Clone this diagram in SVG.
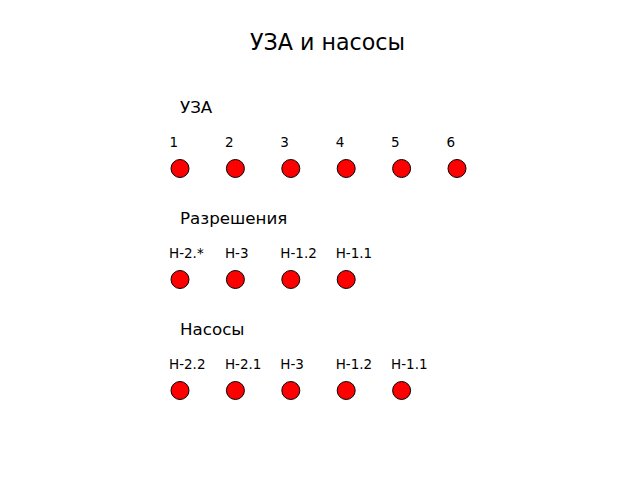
<svg xmlns="http://www.w3.org/2000/svg" width="640" height="480" viewBox="0 0 640 480">
<style>
text{font-family:"DejaVu Sans",sans-serif;fill:#000}
.t{font-size:22.2px}
.h{font-size:16.7px}
.l{font-size:13.5px}
circle{fill:#ff0000;stroke:#000;stroke-width:1}
</style>
<rect width="640" height="480" fill="#fff"/>
<text class="t" x="327.5" y="49.5" text-anchor="middle">УЗА и насосы</text>
<g id="uza">
<text class="h" x="180" y="113">УЗА</text>
<g id="u1"><text class="l" x="169.5" y="147">1</text><circle cx="180" cy="168.5" r="9"/></g>
<g id="u2"><text class="l" x="224.9" y="147">2</text><circle cx="235.4" cy="168.5" r="9"/></g>
<g id="u3"><text class="l" x="280.3" y="147">3</text><circle cx="290.8" cy="168.5" r="9"/></g>
<g id="u4"><text class="l" x="335.7" y="147">4</text><circle cx="346.2" cy="168.5" r="9"/></g>
<g id="u5"><text class="l" x="391.1" y="147">5</text><circle cx="401.6" cy="168.5" r="9"/></g>
<g id="u6"><text class="l" x="446.5" y="147">6</text><circle cx="457" cy="168.5" r="9"/></g>
</g>
<g id="perm">
<text class="h" x="180" y="224">Разрешения</text>
<g id="p1"><text class="l" x="169" y="258">Н-2.*</text><circle cx="180" cy="279.5" r="9"/></g>
<g id="p2"><text class="l" x="224.9" y="258">Н-3</text><circle cx="235.4" cy="279.5" r="9"/></g>
<g id="p3"><text class="l" x="280.3" y="258">Н-1.2</text><circle cx="290.8" cy="279.5" r="9"/></g>
<g id="p4"><text class="l" x="335.7" y="258">Н-1.1</text><circle cx="346.2" cy="279.5" r="9"/></g>
</g>
<g id="pumps">
<text class="h" x="180" y="335">Насосы</text>
<g id="n1"><text class="l" x="169" y="369">Н-2.2</text><circle cx="180" cy="390.5" r="9"/></g>
<g id="n2"><text class="l" x="224.9" y="369">Н-2.1</text><circle cx="235.4" cy="390.5" r="9"/></g>
<g id="n3"><text class="l" x="280.3" y="369">Н-3</text><circle cx="290.8" cy="390.5" r="9"/></g>
<g id="n4"><text class="l" x="335.7" y="369">Н-1.2</text><circle cx="346.2" cy="390.5" r="9"/></g>
<g id="n5"><text class="l" x="391.1" y="369">Н-1.1</text><circle cx="401.6" cy="390.5" r="9"/></g>
</g>
<g id="connectors"></g>
</svg>
